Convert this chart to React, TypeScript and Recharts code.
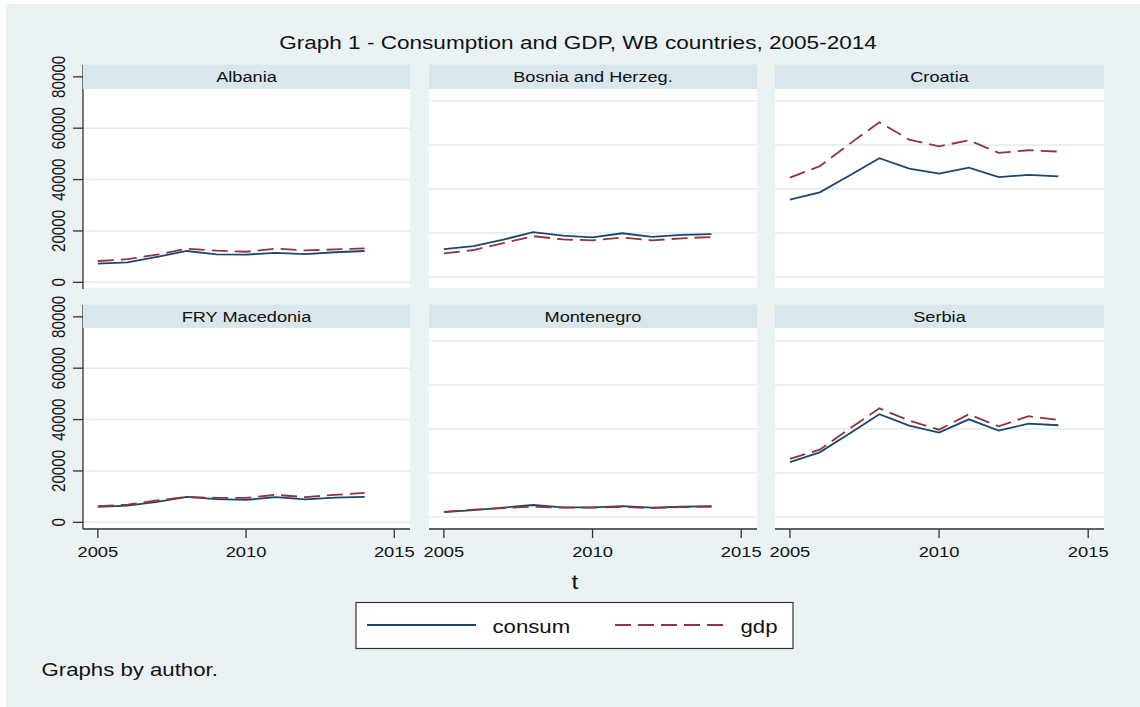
import React from "react";
import { LineChart, Line, XAxis, YAxis, CartesianGrid } from "recharts";

// years on the x axis
const years = [2005, 2006, 2007, 2008, 2009, 2010, 2011, 2012, 2013, 2014];
const countries = ["Albania", "Bosnia and Herzeg.", "Croatia", "FRY Macedonia", "Montenegro", "Serbia"];
const seriesNames = ["consum", "gdp"];
const xTicks = [2005, 2010, 2015];
const yTicks = [0, 20000, 40000, 60000, 80000];

// values
const albaniaConsum = [7300, 7800, 9900, 12200, 10900, 10800, 11500, 11000, 11700, 12200];
const albaniaGdp = [8300, 9000, 10800, 13100, 12300, 11900, 13100, 12400, 12800, 13200];
const bosniaConsum = [12700, 14100, 17000, 20400, 18800, 18000, 19900, 18300, 19200, 19500];
const bosniaGdp = [10800, 12300, 15400, 18600, 17100, 16700, 18000, 16700, 17600, 18200];
const croatiaConsum = [35200, 38500, 46100, 54000, 49300, 47000, 49700, 45400, 46400, 45700];
const croatiaGdp = [45200, 50300, 60500, 70300, 62400, 59400, 62100, 56400, 57600, 57000];
const macedoniaConsum = [6000, 6500, 8000, 9900, 9000, 8700, 9800, 8900, 9600, 9900];
const macedoniaGdp = [6300, 6900, 8500, 9900, 9500, 9500, 10700, 9800, 10700, 11500];
const montenegroConsum = [2300, 3200, 4300, 5500, 4400, 4400, 5000, 4300, 4700, 5000];
const montenegroGdp = [2400, 3400, 4100, 4700, 4300, 4300, 4600, 4100, 4500, 4700];
const serbiaConsum = [25000, 29400, 38000, 46700, 41500, 38400, 44400, 39300, 42400, 41700];
const serbiaGdp = [26400, 30600, 40200, 49400, 43800, 39700, 46700, 41200, 45800, 44100];

const consumByCountry = [albaniaConsum, bosniaConsum, croatiaConsum, macedoniaConsum, montenegroConsum, serbiaConsum];
const gdpByCountry = [albaniaGdp, bosniaGdp, croatiaGdp, macedoniaGdp, montenegroGdp, serbiaGdp];

const NAVY = "#1a476f";
const MAROON = "#90353b";
const BG = "#eaf2f3";
const HEADER = "#d9e6eb";
const GRID = "#e3ebee";
const AXIS = "#333";
const FONT = "'Liberation Sans', Arial, Helvetica, sans-serif";
const DASH = "16 7";

// panel geometry (the first column has its own vertical scale in the original)
const cols = [
  { left: 83, width: 327, domain: [-2600, 84600] },
  { left: 429, width: 328, domain: [-5400, 96300] },
  { left: 775, width: 329, domain: [-5400, 96300] },
];
const rows = [
  { top: 65, header: 24 },
  { top: 305, header: 23 },
];
const PLOT_H = 224;
const AXIS_W = 50;
const AXIS_H = 35;
const PAD = 20; // room so tick labels are not clipped by the svg

function Stretch({ x, y, sx = 1.2, size, anchor = "start", rotate = 0, children }: any) {
  return (
    <text
      transform={`translate(${x},${y}) scale(${sx},1)${rotate ? ` rotate(${rotate})` : ""}`}
      fontSize={size}
      fontFamily={FONT}
      fill="#111"
      textAnchor={anchor}
    >
      {children}
    </text>
  );
}

function Panel({ index }: { index: number }) {
  const r = Math.floor(index / 3);
  const c = index % 3;
  const col = cols[c];
  const row = rows[r];
  const showY = c === 0;
  const showX = r === 1;
  const data = years.map((t, i) => ({
    t,
    consum: consumByCountry[index][i],
    gdp: gdpByCountry[index][i],
  }));
  const padLeft = showY ? 0 : PAD;
  const left = col.left - (showY ? AXIS_W : PAD);
  const width = col.width + (showY ? AXIS_W : PAD) + PAD;
  const height = PLOT_H + PAD + (showX ? AXIS_H : 0);

  return (
    <div style={{ position: "absolute", left, top: row.top - PAD }}>
      <LineChart
        width={width}
        height={height}
        data={data}
        margin={{ top: PAD, right: PAD, bottom: 0, left: padLeft }}
      >
        <CartesianGrid vertical={false} stroke={GRID} strokeWidth={1.4} fill="#fff" fillOpacity={1} />
        <XAxis
          dataKey="t"
          type="number"
          domain={[2004.5, 2015.53]}
          allowDataOverflow
          ticks={xTicks}
          interval={0}
          hide={!showX}
          height={AXIS_H}
          tickSize={9}
          axisLine={{ stroke: AXIS, strokeWidth: 1.3 }}
          tickLine={{ stroke: AXIS, strokeWidth: 1.3 }}
          tick={(p: any) => (
            <Stretch x={p.x} y={PAD + PLOT_H + 27.7} sx={1.2} size={15.3} anchor="middle">
              {p.payload.value}
            </Stretch>
          )}
        />
        <YAxis
          type="number"
          domain={col.domain}
          allowDataOverflow
          ticks={yTicks}
          interval={0}
          hide={!showY}
          width={AXIS_W}
          tickSize={10}
          axisLine={{ stroke: AXIS, strokeWidth: 1.3 }}
          tickLine={{ stroke: AXIS, strokeWidth: 1.3 }}
          tick={(p: any) => (
            <Stretch x={AXIS_W - 18} y={p.y} sx={1.22} size={15.2} anchor="middle" rotate={-90}>
              {p.payload.value}
            </Stretch>
          )}
        />
        <Line dataKey="consum" stroke={NAVY} strokeWidth={1.8} dot={false} isAnimationActive={false} />
        <Line
          dataKey="gdp"
          stroke={MAROON}
          strokeWidth={1.8}
          strokeDasharray={DASH}
          dot={false}
          isAnimationActive={false}
        />
      </LineChart>
    </div>
  );
}

export default function App() {
  return (
    <div style={{ position: "absolute", left: 0, top: 0, width: 1140, height: 707, background: "#fff" }}>
      <div style={{ position: "absolute", left: 6, top: 4, width: 1134, height: 703, background: BG }} />
      {countries.map((_, i) => (
        <Panel key={i} index={i} />
      ))}
      <svg
        width={1140}
        height={707}
        style={{ position: "absolute", left: 0, top: 0, pointerEvents: "none" }}
      >
        <Stretch x={578} y={49} sx={1.22} size={18.5} anchor="middle">
          Graph 1 - Consumption and GDP, WB countries, 2005-2014
        </Stretch>

        {countries.map((name, i) => {
          const col = cols[i % 3];
          const row = rows[Math.floor(i / 3)];
          return (
            <g key={name}>
              <rect x={col.left} y={row.top} width={col.width} height={row.header} fill={HEADER} />
              <Stretch x={col.left + col.width / 2} y={row.top + 16.8} sx={1.18} size={15.4} anchor="middle">
                {name}
              </Stretch>
            </g>
          );
        })}

        <Stretch x={575} y={589} sx={1.2} size={20.5} anchor="middle">
          t
        </Stretch>

        {/* legend */}
        <rect x={356} y={602.5} width={437} height={46} fill="#fff" stroke={AXIS} strokeWidth={1.2} />
        <line x1={367} x2={476} y1={625} y2={625} stroke={NAVY} strokeWidth={2} />
        <Stretch x={492.5} y={632.5} sx={1.2} size={18.5}>
          {seriesNames[0]}
        </Stretch>
        <line x1={615} x2={725} y1={625} y2={625} stroke={MAROON} strokeWidth={2} strokeDasharray={DASH} />
        <Stretch x={740.5} y={632.5} sx={1.2} size={18.5}>
          {seriesNames[1]}
        </Stretch>

        <Stretch x={41.5} y={676} sx={1.2} size={18.5}>
          Graphs by author.
        </Stretch>
      </svg>
    </div>
  );
}
